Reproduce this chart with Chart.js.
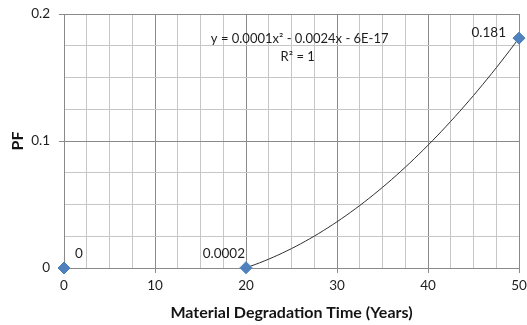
<!DOCTYPE html>
<html>
<head>
<meta charset="utf-8">
<script src="https://cdn.jsdelivr.net/npm/chart.js@4.4.1/dist/chart.umd.min.js"></script>
<style>
  html, body { margin: 0; padding: 0; background: #fff; }
  #wrap { width: 527px; height: 325px; }
</style>
</head>
<body>
<div id="wrap"><canvas id="c" width="527" height="325"></canvas></div>
<script>
// Failure probability (PF) against material degradation time
const years = [0, 20, 50];
const pf = [0, 0.0002, 0.181];
const pointLabels = ['0', '0.0002', '0.181'];
const xTickLabels = ['0', '10', '20', '30', '40', '50'];
const yTickLabels = ['0', '0.1', '0.2'];
const equationText = 'y = 0.0001x² - 0.0024x - 6E-17';
const rSquaredText = 'R² = 1';

// Second-order polynomial trendline through the observations (y = a·x² + b·x + c)
function fitQuadratic(xs, ys) {
  const n = xs.length;
  let s = [0, 0, 0, 0, 0], t = [0, 0, 0];
  for (let i = 0; i < n; i++) {
    for (let k = 0; k <= 4; k++) s[k] += Math.pow(xs[i], k);
    for (let k = 0; k <= 2; k++) t[k] += ys[i] * Math.pow(xs[i], k);
  }
  const M = [[s[4], s[3], s[2], t[2]], [s[3], s[2], s[1], t[1]], [s[2], s[1], s[0], t[0]]];
  for (let i = 0; i < 3; i++) {
    for (let j = i + 1; j < 3; j++) {
      const f = M[j][i] / M[i][i];
      for (let k = i; k < 4; k++) M[j][k] -= f * M[i][k];
    }
  }
  const r = [0, 0, 0];
  for (let i = 2; i >= 0; i--) {
    let v = M[i][3];
    for (let k = i + 1; k < 3; k++) v -= M[i][k] * r[k];
    r[i] = v / M[i][i];
  }
  return r; // [a, b, c]
}
const coef = fitQuadratic(years, pf);
const trend = [];
for (let x = years[1]; x <= years[2] + 1e-9; x += 0.5) {
  trend.push({ x: x, y: coef[0] * x * x + coef[1] * x + coef[2] });
}

const FONT = 'Lato, "Open Sans", sans-serif';
const TEXT = '#1e1e1e';
const MAJOR = '#8a8a8a';
const MINOR = '#c6c6c6';

function isMultiple(v, step) {
  const q = v / step;
  return Math.abs(q - Math.round(q)) < 1e-6;
}

// Data labels and the trendline equation
const annotate = {
  id: 'annotate',
  afterDatasetsDraw(chart) {
    const ctx = chart.ctx;
    const meta = chart.getDatasetMeta(1);
    const offsets = [[15, -14, 'center'], [-1, -14, 'right'], [-13, -5, 'right']];
    ctx.save();
    ctx.font = '13.5px ' + FONT;
    ctx.fillStyle = TEXT;
    ctx.textBaseline = 'middle';
    meta.data.forEach((pt, i) => {
      const o = offsets[i];
      ctx.textAlign = o[2];
      ctx.fillText(pointLabels[i], pt.x + o[0], pt.y + o[1]);
    });
    const xs = chart.scales.x, ys = chart.scales.y;
    const cx = xs.getPixelForValue(25.9);
    ctx.textAlign = 'center';
    ctx.font = '13px ' + FONT;
    ctx.fillText(equationText, cx, ys.getPixelForValue(0.1805));
    ctx.fillText(rSquaredText, cx - 2, ys.getPixelForValue(0.1665));
    ctx.restore();
  }
};

new Chart(document.getElementById('c'), {
  type: 'scatter',
  data: {
    datasets: [
      {
        label: 'Poly. (PF)',
        data: trend,
        showLine: true,
        borderColor: '#303030',
        borderWidth: 1,
        pointRadius: 0,
        pointHoverRadius: 0,
        tension: 0,
        order: 2
      },
      {
        label: 'PF',
        data: years.map((x, i) => ({ x: x, y: pf[i] })),
        pointStyle: 'rectRot',
        pointRadius: 6,
        pointHoverRadius: 6,
        backgroundColor: '#4f81bd',
        borderColor: '#4a7ebb',
        borderWidth: 1,
        clip: false,
        order: 1
      }
    ]
  },
  options: {
    responsive: false,
    animation: false,
    events: [],
    layout: { padding: { left: 0, right: 8, top: 14, bottom: 0 } },
    plugins: { legend: { display: false }, tooltip: { enabled: false } },
    scales: {
      x: {
        type: 'linear',
        min: 0,
        max: 50,
        afterBuildTicks(scale) {
          const t = [];
          for (let v = 0; v <= 50 + 1e-9; v += 2.5) t.push({ value: v });
          scale.ticks = t;
        },
        afterFit(scale) {
          scale.height = 57;
          scale.paddingLeft = 0;
          scale.paddingRight = 0;
        },
        ticks: {
          autoSkip: false,
          maxRotation: 0,
          padding: 5,
          color: TEXT,
          font: { family: FONT, size: 13.5 },
          callback(v) {
            if (!isMultiple(v, 10)) return '';
            return xTickLabels[Math.round(v / 10)];
          }
        },
        grid: {
          color: c => isMultiple(c.tick.value, 10) ? MAJOR : MINOR,
          tickColor: c => isMultiple(c.tick.value, 10) ? MAJOR : 'rgba(0,0,0,0)',
          tickLength: 5,
          lineWidth: 1
        },
        border: { color: MAJOR, width: 1 },
        title: {
          display: true,
          text: 'Material Degradation Time (Years)',
          color: '#141414',
          font: { family: FONT, size: 16, weight: 'bold' },
          padding: { top: 0, bottom: 3 }
        }
      },
      y: {
        type: 'linear',
        min: 0,
        max: 0.2,
        afterBuildTicks(scale) {
          const t = [];
          for (let i = 0; i <= 8; i++) t.push({ value: i * 0.025 });
          scale.ticks = t;
        },
        afterFit(scale) {
          scale.width = 64;
          scale.paddingTop = 0;
          scale.paddingBottom = 0;
        },
        ticks: {
          autoSkip: false,
          padding: 9,
          color: TEXT,
          font: { family: FONT, size: 13.5 },
          callback(v) {
            if (!isMultiple(v, 0.1)) return '';
            return yTickLabels[Math.round(v / 0.1)];
          }
        },
        grid: {
          color: c => isMultiple(c.tick.value, 0.1) ? MAJOR : MINOR,
          tickColor: c => isMultiple(c.tick.value, 0.1) ? MAJOR : 'rgba(0,0,0,0)',
          tickLength: 5,
          lineWidth: 1
        },
        border: { color: MAJOR, width: 1 },
        title: {
          display: true,
          text: 'PF',
          color: '#141414',
          font: { family: FONT, size: 16, weight: 'bold' },
          padding: { top: 8, bottom: 0 }
        }
      }
    }
  },
  plugins: [annotate]
});
</script>
</body>
</html>
